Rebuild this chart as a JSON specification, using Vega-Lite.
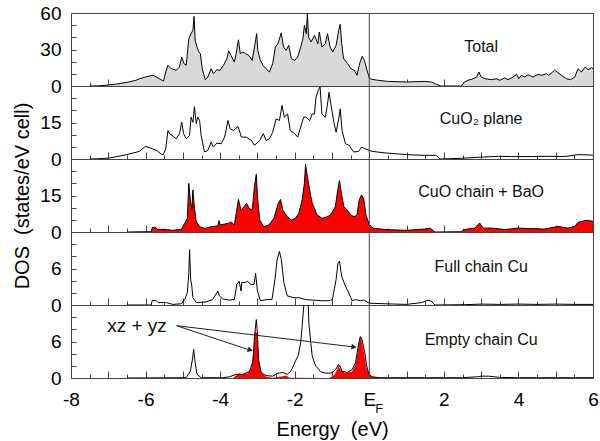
{
  "$schema": "https://vega.github.io/schema/vega-lite/v6.json",
  "padding": {"left": 11, "top": 3, "right": 3, "bottom": 0},
  "spacing": 0,
  "bounds": "flush",
  "config": {
    "font": "Liberation Sans",
    "view": {"stroke": "#444", "strokeWidth": 1},
    "axis": {"domain": false, "grid": false, "labelFont": "Liberation Sans", "labelFontSize": 19, "labelColor": "#000", "tickColor": "#444", "tickWidth": 1, "labelOverlap": false, "labelFlush": false, "titleFont": "Liberation Sans", "titleFontSize": 20, "titleFontWeight": "normal", "titleColor": "#000"},
    "axisX": {"labelPadding": 19},
    "axisY": {"labelPadding": 15},
    "text": {"font": "Liberation Sans", "color": "#111"}
  },
  "datasets": {
    "total": [{"E":-7.5,"v":0},{"E":-7.28,"v":0.1},{"E":-7.0,"v":0.8},{"E":-6.8,"v":1.5},{"E":-6.5,"v":3.0},{"E":-6.26,"v":4.7},{"E":-6.16,"v":6.0},{"E":-6.0,"v":7.4},{"E":-5.8,"v":8.8},{"E":-5.71,"v":7.4},{"E":-5.55,"v":4.5},{"E":-5.52,"v":4.1},{"E":-5.46,"v":11.5},{"E":-5.4,"v":17},{"E":-5.31,"v":14.2},{"E":-5.18,"v":12.9},{"E":-5.09,"v":15.6},{"E":-5.03,"v":23.8},{"E":-4.97,"v":18.4},{"E":-4.91,"v":17},{"E":-4.84,"v":38.9},{"E":-4.78,"v":43},{"E":-4.73,"v":45.8},{"E":-4.7,"v":57.3},{"E":-4.67,"v":37.5},{"E":-4.62,"v":32},{"E":-4.57,"v":28},{"E":-4.53,"v":26.6},{"E":-4.48,"v":14.2},{"E":-4.4,"v":5.2},{"E":-4.33,"v":7.4},{"E":-4.24,"v":14.2},{"E":-4.18,"v":10.1},{"E":-4.09,"v":13.4},{"E":-4.0,"v":12.9},{"E":-3.91,"v":17},{"E":-3.82,"v":22.5},{"E":-3.77,"v":28.8},{"E":-3.71,"v":25.2},{"E":-3.62,"v":19.7},{"E":-3.57,"v":26.6},{"E":-3.51,"v":38},{"E":-3.46,"v":26.6},{"E":-3.39,"v":28},{"E":-3.32,"v":26.6},{"E":-3.23,"v":25.2},{"E":-3.14,"v":21},{"E":-3.08,"v":32},{"E":-3.02,"v":43},{"E":-2.99,"v":29.3},{"E":-2.92,"v":21},{"E":-2.85,"v":17},{"E":-2.77,"v":14.2},{"E":-2.68,"v":11.5},{"E":-2.59,"v":18.4},{"E":-2.52,"v":32},{"E":-2.45,"v":34.8},{"E":-2.36,"v":43.6},{"E":-2.3,"v":32},{"E":-2.23,"v":29.3},{"E":-2.16,"v":33.4},{"E":-2.09,"v":22.5},{"E":-2.0,"v":21},{"E":-1.92,"v":23.8},{"E":-1.84,"v":32},{"E":-1.78,"v":38.9},{"E":-1.74,"v":49.9},{"E":-1.69,"v":43},{"E":-1.66,"v":60},{"E":-1.63,"v":40.3},{"E":-1.56,"v":36.2},{"E":-1.47,"v":41.6},{"E":-1.38,"v":34.8},{"E":-1.34,"v":44.4},{"E":-1.27,"v":32},{"E":-1.18,"v":34.8},{"E":-1.12,"v":43},{"E":-1.05,"v":32},{"E":-0.98,"v":28},{"E":-0.89,"v":33.4},{"E":-0.82,"v":45.8},{"E":-0.78,"v":50.7},{"E":-0.74,"v":34.8},{"E":-0.69,"v":22.5},{"E":-0.58,"v":18.4},{"E":-0.49,"v":14.2},{"E":-0.4,"v":12.9},{"E":-0.33,"v":8.8},{"E":-0.26,"v":18.4},{"E":-0.19,"v":24.4},{"E":-0.13,"v":21},{"E":-0.06,"v":12.9},{"E":0.0,"v":6.5},{"E":0.06,"v":5.5},{"E":0.24,"v":4.7},{"E":0.49,"v":3.8},{"E":1.0,"v":3.3},{"E":1.49,"v":3.8},{"E":1.67,"v":3.3},{"E":1.8,"v":1.4},{"E":1.92,"v":0},{"E":2.47,"v":0},{"E":2.55,"v":3.3},{"E":2.65,"v":4.7},{"E":2.79,"v":6.0},{"E":2.88,"v":7.4},{"E":2.94,"v":11.5},{"E":3.0,"v":7.4},{"E":3.1,"v":6.0},{"E":3.28,"v":5.2},{"E":3.41,"v":6.0},{"E":3.5,"v":4.7},{"E":3.63,"v":6.6},{"E":3.72,"v":5.2},{"E":3.86,"v":7.4},{"E":3.95,"v":9.6},{"E":4.01,"v":6.0},{"E":4.08,"v":8.8},{"E":4.17,"v":7.4},{"E":4.26,"v":9.3},{"E":4.39,"v":7.4},{"E":4.53,"v":9.6},{"E":4.62,"v":8.8},{"E":4.75,"v":10.1},{"E":4.81,"v":8.8},{"E":4.97,"v":12.9},{"E":5.04,"v":11.5},{"E":5.15,"v":8.8},{"E":5.29,"v":6.0},{"E":5.4,"v":5.2},{"E":5.51,"v":7.4},{"E":5.6,"v":14.2},{"E":5.69,"v":11.5},{"E":5.79,"v":15.6},{"E":5.87,"v":13.4},{"E":5.96,"v":15.1},{"E":6.0,"v":14.2}],
    "plane": [{"E":-7.5,"v":0},{"E":-7.28,"v":0.1},{"E":-6.97,"v":0.4},{"E":-6.5,"v":1.8},{"E":-6.17,"v":3.1},{"E":-6.0,"v":5.2},{"E":-5.87,"v":4.5},{"E":-5.7,"v":3.5},{"E":-5.56,"v":1.8},{"E":-5.52,"v":1.9},{"E":-5.46,"v":4.2},{"E":-5.4,"v":11.7},{"E":-5.36,"v":10.4},{"E":-5.29,"v":9.7},{"E":-5.18,"v":8.3},{"E":-5.09,"v":10.4},{"E":-5.03,"v":15.1},{"E":-4.98,"v":10.4},{"E":-4.91,"v":8.3},{"E":-4.82,"v":9.7},{"E":-4.78,"v":17.2},{"E":-4.73,"v":15.1},{"E":-4.69,"v":21.5},{"E":-4.64,"v":14.5},{"E":-4.6,"v":17.2},{"E":-4.55,"v":15.8},{"E":-4.51,"v":9.7},{"E":-4.42,"v":2.9},{"E":-4.33,"v":3.5},{"E":-4.24,"v":7.0},{"E":-4.18,"v":4.9},{"E":-4.09,"v":6.5},{"E":-3.97,"v":6.3},{"E":-3.88,"v":9.0},{"E":-3.79,"v":15.8},{"E":-3.73,"v":12.4},{"E":-3.64,"v":11.7},{"E":-3.52,"v":13.4},{"E":-3.43,"v":9.0},{"E":-3.3,"v":9.0},{"E":-3.16,"v":7.6},{"E":-3.08,"v":5.6},{"E":-2.94,"v":7.6},{"E":-2.84,"v":10.4},{"E":-2.77,"v":7.6},{"E":-2.68,"v":8.3},{"E":-2.59,"v":11.0},{"E":-2.5,"v":16.5},{"E":-2.41,"v":15.8},{"E":-2.34,"v":22},{"E":-2.28,"v":17.2},{"E":-2.19,"v":18.5},{"E":-2.12,"v":11.7},{"E":-2.0,"v":10.4},{"E":-1.92,"v":9.0},{"E":-1.84,"v":13.1},{"E":-1.76,"v":17.2},{"E":-1.69,"v":17.2},{"E":-1.6,"v":15.8},{"E":-1.53,"v":18.5},{"E":-1.47,"v":18.5},{"E":-1.43,"v":25.4},{"E":-1.37,"v":28.1},{"E":-1.32,"v":29.7},{"E":-1.27,"v":18.5},{"E":-1.18,"v":17.2},{"E":-1.12,"v":22.6},{"E":-1.08,"v":27.4},{"E":-1.01,"v":20.6},{"E":-0.95,"v":15.1},{"E":-0.89,"v":11.0},{"E":-0.82,"v":16.5},{"E":-0.78,"v":20.6},{"E":-0.73,"v":11.7},{"E":-0.64,"v":6.3},{"E":-0.54,"v":5.6},{"E":-0.42,"v":2.9},{"E":-0.29,"v":3.1},{"E":-0.2,"v":4.9},{"E":-0.11,"v":4.2},{"E":0.0,"v":3.5},{"E":0.1,"v":3.1},{"E":0.42,"v":2.5},{"E":1.0,"v":1.8},{"E":1.49,"v":1.5},{"E":1.8,"v":1.5},{"E":1.89,"v":0},{"E":2.47,"v":0.3},{"E":2.92,"v":0.7},{"E":3.46,"v":1.1},{"E":3.81,"v":1.0},{"E":4.35,"v":1.0},{"E":4.79,"v":1.1},{"E":5.24,"v":1.0},{"E":5.6,"v":1.8},{"E":6.0,"v":1.6}],
    "chain": [{"E":-6.5,"v":0},{"E":-6.0,"v":0.1},{"E":-5.85,"v":0.1},{"E":-5.82,"v":1.9},{"E":-5.73,"v":1.9},{"E":-5.69,"v":1.1},{"E":-5.44,"v":1.0},{"E":-5.27,"v":0.7},{"E":-5.04,"v":1.1},{"E":-4.95,"v":3.6},{"E":-4.88,"v":5.6},{"E":-4.84,"v":20},{"E":-4.8,"v":13.2},{"E":-4.76,"v":9.0},{"E":-4.73,"v":17.3},{"E":-4.69,"v":9.7},{"E":-4.64,"v":4.2},{"E":-4.55,"v":2.2},{"E":-4.42,"v":1.5},{"E":-4.24,"v":2.2},{"E":-4.06,"v":2.5},{"E":-4.03,"v":4.7},{"E":-4.0,"v":2.9},{"E":-3.88,"v":3.3},{"E":-3.77,"v":3.6},{"E":-3.71,"v":4.2},{"E":-3.62,"v":2.9},{"E":-3.56,"v":8.4},{"E":-3.51,"v":13.4},{"E":-3.44,"v":9.0},{"E":-3.36,"v":10.4},{"E":-3.29,"v":11.8},{"E":-3.22,"v":9.7},{"E":-3.14,"v":9.0},{"E":-3.08,"v":18.6},{"E":-3.03,"v":23.8},{"E":-3.0,"v":14.5},{"E":-2.94,"v":4.9},{"E":-2.83,"v":2.2},{"E":-2.69,"v":2.9},{"E":-2.56,"v":5.6},{"E":-2.44,"v":11.8},{"E":-2.38,"v":13.4},{"E":-2.32,"v":9.0},{"E":-2.2,"v":6.3},{"E":-2.09,"v":4.9},{"E":-1.98,"v":5.6},{"E":-1.89,"v":7.7},{"E":-1.8,"v":13.2},{"E":-1.74,"v":20},{"E":-1.71,"v":27.9},{"E":-1.66,"v":22.7},{"E":-1.6,"v":17.3},{"E":-1.53,"v":11.8},{"E":-1.4,"v":7.0},{"E":-1.26,"v":5.6},{"E":-1.13,"v":6.3},{"E":-1.04,"v":7.0},{"E":-0.91,"v":10.4},{"E":-0.84,"v":17.9},{"E":-0.8,"v":21.1},{"E":-0.74,"v":15.2},{"E":-0.68,"v":10.4},{"E":-0.59,"v":9.0},{"E":-0.5,"v":7.0},{"E":-0.41,"v":6.3},{"E":-0.33,"v":7.0},{"E":-0.27,"v":13.2},{"E":-0.21,"v":15.2},{"E":-0.15,"v":13.7},{"E":-0.09,"v":7.0},{"E":0.0,"v":3.0},{"E":0.1,"v":1.6},{"E":0.42,"v":1.0},{"E":1.0,"v":0.7},{"E":1.49,"v":1.2},{"E":1.63,"v":1.6},{"E":1.76,"v":0},{"E":2.47,"v":0.1},{"E":2.56,"v":1.0},{"E":2.83,"v":1.6},{"E":2.96,"v":3.7},{"E":3.05,"v":1.6},{"E":3.28,"v":1.6},{"E":3.63,"v":1.0},{"E":3.99,"v":1.6},{"E":4.35,"v":1.4},{"E":4.7,"v":1.2},{"E":5.06,"v":2.3},{"E":5.33,"v":1.6},{"E":5.51,"v":2.3},{"E":5.6,"v":4.0},{"E":5.82,"v":4.8},{"E":6.0,"v":4.4}],
    "full": [{"E":-6.5,"v":0},{"E":-5.85,"v":0},{"E":-5.82,"v":0.76},{"E":-5.71,"v":0.7},{"E":-5.66,"v":0.4},{"E":-5.44,"v":0.4},{"E":-5.27,"v":0.1},{"E":-5.04,"v":0.2},{"E":-4.95,"v":0.9},{"E":-4.88,"v":2.0},{"E":-4.84,"v":5.3},{"E":-4.82,"v":9.1},{"E":-4.79,"v":4.2},{"E":-4.76,"v":3.1},{"E":-4.73,"v":1.2},{"E":-4.64,"v":0.4},{"E":-4.38,"v":0.5},{"E":-4.2,"v":0.9},{"E":-4.06,"v":2.3},{"E":-4.02,"v":1.5},{"E":-3.93,"v":1.0},{"E":-3.75,"v":0.8},{"E":-3.62,"v":0.9},{"E":-3.55,"v":3.4},{"E":-3.49,"v":3.9},{"E":-3.44,"v":2.3},{"E":-3.42,"v":3.7},{"E":-3.33,"v":3.7},{"E":-3.27,"v":3.9},{"E":-3.18,"v":3.4},{"E":-3.09,"v":3.4},{"E":-3.05,"v":5.2},{"E":-3.0,"v":2.3},{"E":-2.92,"v":0.7},{"E":-2.74,"v":0.9},{"E":-2.61,"v":0.9},{"E":-2.53,"v":4.2},{"E":-2.47,"v":7.5},{"E":-2.41,"v":8.8},{"E":-2.36,"v":7.5},{"E":-2.29,"v":3.7},{"E":-2.2,"v":1.5},{"E":-2.02,"v":1.2},{"E":-1.89,"v":1.2},{"E":-1.71,"v":0.9},{"E":-1.53,"v":0.8},{"E":-1.26,"v":0.7},{"E":-1.08,"v":0.7},{"E":-0.99,"v":0.9},{"E":-0.89,"v":4.2},{"E":-0.84,"v":6.9},{"E":-0.8,"v":7.2},{"E":-0.74,"v":4.7},{"E":-0.64,"v":3.1},{"E":-0.55,"v":2.0},{"E":-0.46,"v":0.7},{"E":-0.37,"v":0.9},{"E":-0.24,"v":0.7},{"E":-0.15,"v":0.8},{"E":0.0,"v":0.3},{"E":0.42,"v":0.2},{"E":1.0,"v":0.1},{"E":1.4,"v":0.4},{"E":1.58,"v":0.8},{"E":1.67,"v":0.6},{"E":1.76,"v":0},{"E":2.56,"v":0.05},{"E":3.0,"v":0.15},{"E":3.5,"v":0.1},{"E":4.0,"v":0.15},{"E":4.5,"v":0.1},{"E":5.0,"v":0.15},{"E":5.5,"v":0.1},{"E":6.0,"v":0.1}],
    "empty": [{"E":-6.5,"v":0},{"E":-4.91,"v":0.05},{"E":-4.8,"v":1.1},{"E":-4.75,"v":2.8},{"E":-4.71,"v":4.7},{"E":-4.67,"v":2.5},{"E":-4.62,"v":0.6},{"E":-4.51,"v":0.05},{"E":-3.93,"v":0.05},{"E":-3.75,"v":0.2},{"E":-3.57,"v":0.6},{"E":-3.39,"v":0.6},{"E":-3.21,"v":1.1},{"E":-3.12,"v":2.8},{"E":-3.08,"v":6.8},{"E":-3.03,"v":9.6},{"E":-3.0,"v":7.4},{"E":-2.97,"v":3.0},{"E":-2.9,"v":0.9},{"E":-2.77,"v":0.4},{"E":-2.59,"v":0.3},{"E":-2.45,"v":0.8},{"E":-2.32,"v":0.9},{"E":-2.2,"v":0.6},{"E":-2.11,"v":1.1},{"E":-2.02,"v":2.2},{"E":-1.98,"v":2.8},{"E":-1.91,"v":3.6},{"E":-1.84,"v":5.8},{"E":-1.8,"v":8.5},{"E":-1.76,"v":11.7},{"E":-1.71,"v":16},{"E":-1.66,"v":16},{"E":-1.62,"v":9.0},{"E":-1.57,"v":5.8},{"E":-1.53,"v":3.6},{"E":-1.44,"v":2.0},{"E":-1.3,"v":1.0},{"E":-1.17,"v":0.8},{"E":-1.04,"v":0.8},{"E":-0.99,"v":0.9},{"E":-0.9,"v":1.4},{"E":-0.83,"v":2.2},{"E":-0.79,"v":2.0},{"E":-0.73,"v":1.1},{"E":-0.59,"v":0.9},{"E":-0.46,"v":1.4},{"E":-0.37,"v":2.5},{"E":-0.28,"v":5.8},{"E":-0.24,"v":6.8},{"E":-0.19,"v":6.3},{"E":-0.12,"v":4.1},{"E":-0.07,"v":2.0},{"E":-0.01,"v":0.6},{"E":0.08,"v":0.2},{"E":0.26,"v":0.05},{"E":2.5,"v":0.05},{"E":2.9,"v":0.2},{"E":3.0,"v":0.3},{"E":3.2,"v":0.3},{"E":3.5,"v":0.1},{"E":4.0,"v":0.05},{"E":6.0,"v":0.05}],
    "xzyz": [{"E":-3.66,"v":0},{"E":-3.57,"v":0.4},{"E":-3.48,"v":0.8},{"E":-3.39,"v":0.6},{"E":-3.26,"v":0.8},{"E":-3.16,"v":1.7},{"E":-3.1,"v":4.7},{"E":-3.06,"v":7.7},{"E":-3.01,"v":7.4},{"E":-2.97,"v":3.0},{"E":-2.9,"v":0.9},{"E":-2.77,"v":0.2},{"E":-2.59,"v":0.05},{"E":-2.32,"v":0.3},{"E":-2.23,"v":0.4},{"E":-2.14,"v":0.05},{"E":-1.08,"v":0},{"E":-0.95,"v":0.4},{"E":-0.86,"v":1.4},{"E":-0.82,"v":2.2},{"E":-0.77,"v":1.4},{"E":-0.64,"v":0.8},{"E":-0.46,"v":1.1},{"E":-0.37,"v":2.2},{"E":-0.3,"v":4.7},{"E":-0.25,"v":6.8},{"E":-0.21,"v":6.3},{"E":-0.14,"v":4.1},{"E":-0.08,"v":1.7},{"E":-0.01,"v":0.6},{"E":0.08,"v":0.2},{"E":0.26,"v":0.05},{"E":0.35,"v":0}]
  },
  "vconcat": [
    {
      "width": 522, "height": 73,
      "encoding": {
        "x": {"field": "E", "type": "quantitative", "scale": {"domain": [-8, 6], "nice": false, "zero": false},
              "axis": {"values": [-8,-7.5,-7,-6.5,-6,-5.5,-5,-4.5,-4,-3.5,-3,-2.5,-2,-1.5,-1,-0.5,0,0.5,1,1.5,2,2.5,3,3.5,4,4.5,5,5.5,6], "tickSize": {"condition": {"test": "datum.value % 1 === 0", "value": -7}, "value": -4}, "labels": false, "title": null}},
        "y": {"field": "v", "type": "quantitative", "scale": {"domain": [0, 60], "nice": false, "zero": true},
              "axis": {"values": [0,10,20,30,40,50,60], "tickSize": -5, "labelExpr": "datum.value % 30 === 0 ? '' + datum.value : ''", "title": null}}
      },
      "layer": [
        {"data": {"name": "total"}, "mark": {"type": "area", "color": "#d9d9d9", "clip": true}},
        {"data": {"name": "total"}, "mark": {"type": "line", "color": "#000", "strokeWidth": 1, "clip": true}},
        {"data": {"values": [{"E": 0, "v": 0, "v2": 60}]}, "mark": {"type": "rule", "color": "#444"}, "encoding": {"y2": {"field": "v2"}}},
        {"data": {"values": [{"E": 3, "v": 32, "label": "Total"}]}, "mark": {"type": "text", "fontSize": 16}, "encoding": {"text": {"field": "label"}}}
      ]
    },
    {
      "width": 522, "height": 73,
      "encoding": {
        "x": {"field": "E", "type": "quantitative", "scale": {"domain": [-8, 6], "nice": false, "zero": false},
              "axis": {"values": [-8,-7.5,-7,-6.5,-6,-5.5,-5,-4.5,-4,-3.5,-3,-2.5,-2,-1.5,-1,-0.5,0,0.5,1,1.5,2,2.5,3,3.5,4,4.5,5,5.5,6], "tickSize": {"condition": {"test": "datum.value % 1 === 0", "value": -7}, "value": -4}, "labels": false, "title": null}},
        "y": {"field": "v", "type": "quantitative", "scale": {"domain": [0, 30], "nice": false, "zero": true},
              "axis": {"values": [0,5,10,15,20,25,30], "tickSize": -5, "labelExpr": "datum.value === 0 || datum.value === 15 ? '' + datum.value : ''", "title": null}}
      },
      "layer": [
        {"data": {"name": "plane"}, "mark": {"type": "line", "color": "#000", "strokeWidth": 1, "clip": true}},
        {"data": {"values": [{"E": 0, "v": 0, "v2": 30}]}, "mark": {"type": "rule", "color": "#444"}, "encoding": {"y2": {"field": "v2"}}},
        {"data": {"values": [{"E": 3, "v": 16.5, "label": "CuO₂ plane"}]}, "mark": {"type": "text", "fontSize": 16}, "encoding": {"text": {"field": "label"}}}
      ]
    },
    {
      "width": 522, "height": 73,
      "encoding": {
        "x": {"field": "E", "type": "quantitative", "scale": {"domain": [-8, 6], "nice": false, "zero": false},
              "axis": {"values": [-8,-7.5,-7,-6.5,-6,-5.5,-5,-4.5,-4,-3.5,-3,-2.5,-2,-1.5,-1,-0.5,0,0.5,1,1.5,2,2.5,3,3.5,4,4.5,5,5.5,6], "tickSize": {"condition": {"test": "datum.value % 1 === 0", "value": -7}, "value": -4}, "labels": false, "title": null}},
        "y": {"field": "v", "type": "quantitative", "scale": {"domain": [0, 30], "nice": false, "zero": true},
              "axis": {"values": [0,5,10,15,20,25,30], "tickSize": -5, "labelExpr": "datum.value === 0 || datum.value === 15 ? '' + datum.value : ''", "title": "DOS\u00a0 (states/eV cell)", "titlePadding": 7.5}}
      },
      "layer": [
        {"data": {"name": "chain"}, "mark": {"type": "area", "color": "#ff0000", "clip": true}},
        {"data": {"name": "chain"}, "mark": {"type": "line", "color": "#000", "strokeWidth": 1, "clip": true}},
        {"data": {"values": [{"E": 0, "v": 0, "v2": 30}]}, "mark": {"type": "rule", "color": "#444"}, "encoding": {"y2": {"field": "v2"}}},
        {"data": {"values": [{"E": 3, "v": 16.5, "label": "CuO chain + BaO"}]}, "mark": {"type": "text", "fontSize": 16}, "encoding": {"text": {"field": "label"}}}
      ]
    },
    {
      "width": 522, "height": 73,
      "encoding": {
        "x": {"field": "E", "type": "quantitative", "scale": {"domain": [-8, 6], "nice": false, "zero": false},
              "axis": {"values": [-8,-7.5,-7,-6.5,-6,-5.5,-5,-4.5,-4,-3.5,-3,-2.5,-2,-1.5,-1,-0.5,0,0.5,1,1.5,2,2.5,3,3.5,4,4.5,5,5.5,6], "tickSize": {"condition": {"test": "datum.value % 1 === 0", "value": -7}, "value": -4}, "labels": false, "title": null}},
        "y": {"field": "v", "type": "quantitative", "scale": {"domain": [0, 12], "nice": false, "zero": true},
              "axis": {"values": [0,2,4,6,8,10,12], "tickSize": -5, "labelExpr": "datum.value === 0 || datum.value === 6 ? '' + datum.value : ''", "title": null}}
      },
      "layer": [
        {"data": {"name": "full"}, "mark": {"type": "line", "color": "#000", "strokeWidth": 1, "clip": true}},
        {"data": {"values": [{"E": 0, "v": 0, "v2": 12}]}, "mark": {"type": "rule", "color": "#444"}, "encoding": {"y2": {"field": "v2"}}},
        {"data": {"values": [{"E": 3, "v": 6.3, "label": "Full chain Cu"}]}, "mark": {"type": "text", "fontSize": 16}, "encoding": {"text": {"field": "label"}}}
      ]
    },
    {
      "width": 522, "height": 73,
      "encoding": {
        "x": {"field": "E", "type": "quantitative", "scale": {"domain": [-8, 6], "nice": false, "zero": false},
              "axis": {"values": [-8,-7.5,-7,-6.5,-6,-5.5,-5,-4.5,-4,-3.5,-3,-2.5,-2,-1.5,-1,-0.5,0,0.5,1,1.5,2,2.5,3,3.5,4,4.5,5,5.5,6], "tickSize": {"condition": {"test": "datum.value % 1 === 0", "value": -7}, "value": -4}, "labelExpr": "datum.value % 2 === 0 ? (datum.value === 0 ? 'E' : '' + datum.value) : ''", "title": "Energy\u00a0 (eV)", "titlePadding": 7}},
        "y": {"field": "v", "type": "quantitative", "scale": {"domain": [0, 12], "nice": false, "zero": true},
              "axis": {"values": [0,2,4,6,8,10,12], "tickSize": -5, "labelExpr": "datum.value === 0 || datum.value === 6 ? '' + datum.value : ''", "title": null}}
      },
      "layer": [
        {"data": {"name": "xzyz"}, "mark": {"type": "area", "color": "#ff0000", "clip": true}},
        {"data": {"name": "empty"}, "mark": {"type": "line", "color": "#000", "strokeWidth": 1, "clip": true}},
        {"data": {"values": [{"E": 0, "v": 0, "v2": 12}]}, "mark": {"type": "rule", "color": "#444"}, "encoding": {"y2": {"field": "v2"}}},
        {"data": {"values": [{"E": 3, "v": 6.3, "label": "Empty chain Cu"}]}, "mark": {"type": "text", "fontSize": 16}, "encoding": {"text": {"field": "label"}}},
        {"data": {"values": [{"E": -6.23, "v": 8.6, "label": "xz + yz"}]}, "mark": {"type": "text", "fontSize": 19}, "encoding": {"text": {"field": "label"}}},
        {"data": {"values": [{"E": -5.17, "v": 8.6, "E2": -3.16, "v2": 4.5}, {"E": -5.17, "v": 8.6, "E2": -0.37, "v2": 5.07}]}, "mark": {"type": "rule", "color": "#222", "strokeWidth": 1}, "encoding": {"x2": {"field": "E2"}, "y2": {"field": "v2"}}},
        {"data": {"values": [{"E": -3.19, "v": 4.6}]}, "mark": {"type": "point", "shape": "triangle-right", "angle": 18.4, "filled": true, "size": 35, "color": "#222", "opacity": 1}},
        {"data": {"values": [{"E": -0.41, "v": 5.1}]}, "mark": {"type": "point", "shape": "triangle-right", "angle": 6.9, "filled": true, "size": 35, "color": "#222", "opacity": 1}},
        {"data": {"values": [{"E": 0, "v": 0, "label": "F"}]}, "mark": {"type": "text", "fontSize": 13, "dx": 10, "dy": 31, "clip": false}, "encoding": {"text": {"field": "label"}}}
      ]
    }
  ]
}
